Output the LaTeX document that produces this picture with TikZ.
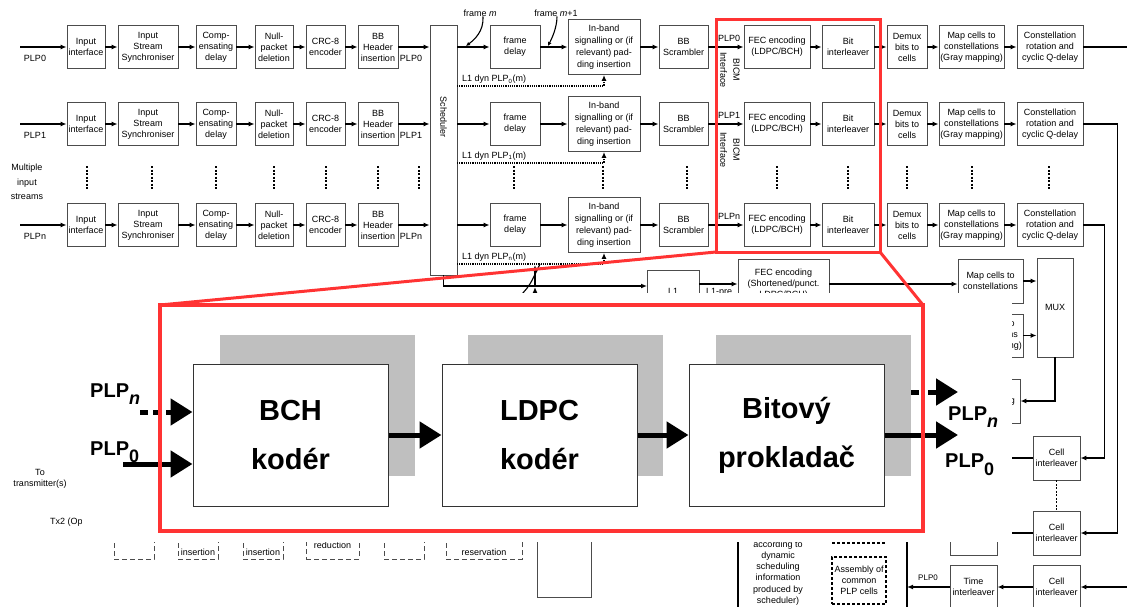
\documentclass[tikz,border=0pt]{standalone}
\usepackage{fontspec}
\setmainfont{Liberation Sans}
\usetikzlibrary{arrows.meta}

\begin{document}
\begin{tikzpicture}
  [x=1pt, y=-1pt,
   blk/.style={draw=black!70, line width=.9pt, fill=white, align=center, inner sep=1pt,
     minimum height=43pt, font=\fontsize{9}{11}\selectfont},
   lbl/.style={inner sep=0pt, align=center, font=\fontsize{9}{11}\selectfont},
   flow/.style={line width=1.4pt, -{Latex[length=6pt,width=5pt]}},
   wire/.style={line width=1.1pt},
   dyn/.style={line width=1.2pt, densely dotted, -{Latex[length=6pt,width=5pt]}},
   vdots/.style={line width=1.3pt, dash pattern=on 2pt off 1.5pt},
   ptr/.style={line width=1.1pt, -{Latex[length=4pt,width=4pt]}},
   dashbox/.style={draw=black!70, line width=.9pt, dash pattern=on 5pt off 3pt, fill=white},
   ghost/.style={fill=black!25},
   coder/.style={draw=black!80, line width=1pt, fill=white, minimum width=195pt,
     minimum height=142pt, align=center, font=\fontsize{29}{49}\selectfont\bfseries},
   fat/.style={line width=5pt, -{Triangle[length=22pt,width=26pt]}},
   big/.style={inner sep=0pt, font=\fontsize{20}{20}\selectfont\bfseries},
   zoomline/.style={draw=red!80!white, line width=3pt}]

  \useasboundingbox (0,0) rectangle (1127,607);

  % Scheduler
  \node[blk, minimum width=27pt, minimum height=250pt] (sch) at (443.5,150) {};
  \node[lbl, rotate=-90] (schtxt) at (443.5,117) {Scheduler};

  % Radky PLP
  \foreach \rw/\y in {0/47, 1/124, n/225} {
    \node[blk, minimum width=38pt] (ii\rw)  at (86,\y)    {Input\\interface};
    \node[blk, minimum width=60pt] (iss\rw) at (148,\y)   {Input\\Stream\\Synchroniser};
    \node[blk, minimum width=40pt] (cd\rw)  at (216,\y)   {Comp-\\ensating\\delay};
    \node[blk, minimum width=38pt] (np\rw)  at (274,\y)   {Null-\\packet\\deletion};
    \node[blk, minimum width=39pt] (crc\rw) at (325.5,\y) {CRC-8\\encoder};
    \node[blk, minimum width=40pt] (bbh\rw) at (378,\y)   {BB\\Header\\insertion};
    \node[blk, minimum width=50pt] (fd\rw)  at (515,\y)   {frame\\delay};
    \node[blk, minimum width=72pt, minimum height=55pt, font=\fontsize{9}{12}\selectfont] (ib\rw) at (604,\y)
      {In-band\\signalling or (if\\relevant) pad-\\ding insertion};
    \node[blk, minimum width=49pt] (bbs\rw) at (683.5,\y) {BB\\Scrambler};
    \node[blk, minimum width=66pt] (fec\rw) at (777,\y)   {FEC encoding\\(LDPC/BCH)};
    \node[blk, minimum width=52pt] (bil\rw) at (848,\y)   {Bit\\interleaver};
    \node[blk, minimum width=40pt] (dmx\rw) at (907,\y)   {Demux\\bits to\\cells};
    \node[blk, minimum width=65pt] (map\rw) at (971.5,\y) {Map cells to\\constellations\\(Gray mapping)};
    \node[blk, minimum width=66pt] (con\rw) at (1050,\y)  {Constellation\\rotation and\\cyclic Q-delay};

    \coordinate (in\rw) at (20,\y);
    \coordinate (dy\rw) at (457,\y+39);
    \draw[flow] (in\rw) -- (ii\rw);
    \foreach \from/\to in {ii/iss, iss/cd, cd/np, np/crc, crc/bbh, fd/ib, ib/bbs,
                           bbs/fec, fec/bil, bil/dmx, dmx/map, map/con}
      \draw[flow] (\from\rw) -- (\to\rw);
    \draw[flow] (bbh\rw) -- (bbh\rw -| sch.west);
    \draw[flow] (sch.east |- fd\rw) -- (fd\rw);
    \draw[dyn] (dy\rw) -| (ib\rw.south);

    \node[lbl] (pi\rw) at (35,\y+11)  {PLP\rw};
    \node[lbl] (po\rw) at (411,\y+11) {PLP\rw};
    \node[lbl] (pf\rw) at (729,\y-9)  {PLP\rw};
    \node[lbl, anchor=south west] (dl\rw) at (462,\y+37) {L1 dyn PLP\textsubscript{\rw}(m)};
  }

  \node[lbl, rotate=-90, font=\fontsize{9}{13}\selectfont] (bicm0) at (730,70)  {BICM\\Interface};
  \node[lbl, rotate=-90, font=\fontsize{9}{13}\selectfont] (bicm1) at (730,150) {BICM\\Interface};
  \node[lbl, font=\fontsize{9}{14.5}\selectfont] (mis) at (27,182) {Multiple\\input\\streams};

  % frame m, m+1
  \node[lbl] (fm)  at (480,13) {frame \textit{m}};
  \node[lbl] (fm1) at (556,13) {frame \textit{m}+1};
  \coordinate (fmt)  at (466,46);
  \coordinate (fm1t) at (548,46);
  \draw[ptr] ([xshift=3pt]fm.south) .. controls +(1,15) and +(8,-6) .. (fmt);
  \draw[ptr] ([xshift=1pt]fm1.south) .. controls +(0,12) and +(3,-6) .. (fm1t);

  \foreach \x in {87,152,216,274,326,378,419,514,603,687,777,848,907,972,1049}
    \draw[vdots] (\x,166) -- (\x,190);

  % L1 signalizace
  \node[blk, minimum width=52pt, minimum height=56pt] (l1) at (673,298) {L1\\signalling};
  \node[lbl, anchor=north] (l1pre) at (719,288) {L1-pre};
  \node[blk, minimum width=91pt, minimum height=50pt] (fecl1) at (783.5,284) {FEC encoding\\(Shortened/punct.\\LDPC/BCH)};
  \node[blk, minimum width=65pt, minimum height=44pt] (mapl1) at (990.5,281) {Map cells to\\constellations};
  \node[blk, minimum width=65pt] (mapl2) at (990.5,335.5) {Map cells to\\constellations\\(Gray mapping)};
  \node[blk, minimum width=36pt, minimum height=99pt] (mux) at (1055,307.5) {MUX};
  \node[blk, minimum width=70pt, minimum height=44pt] (frm) at (985,401) {Frame building};

  \coordinate (l1in) at (647,286);
  \draw[flow] (sch.south) |- (l1in);
  \draw[flow] (l1.east |- fecl1.west) -- (fecl1.west);
  \draw[flow] (fecl1.east) -- (mapl1.west |- fecl1.east);
  \draw[flow] (mapl1.east) -- (mapl1.east -| mux.west);
  \draw[flow] (mapl2.east) -- (mapl2.east -| mux.west);
  \draw[flow] (mux.south) |- (frm.east);
  \draw[flow] (535,294) -- (535,287);
  \draw[flow] (535,285) -- (535,265);
  \draw[wire] (522,294) .. controls (530,285) .. (540,264);

  % Bunkove prokladace
  \node[blk, minimum width=47pt, minimum height=44pt] (ci1) at (1056.5,458) {Cell\\interleaver};
  \node[blk, minimum width=47pt, minimum height=44pt] (ci2) at (1056.5,533) {Cell\\interleaver};
  \node[blk, minimum width=47pt, minimum height=44pt] (ci3) at (1056.5,587) {Cell\\interleaver};
  \node[blk, minimum width=47pt, minimum height=44pt] (fi)  at (973.5,533)  {Frequency\\interleaver};
  \node[blk, minimum width=47pt, minimum height=44pt] (ti)  at (973.5,587)  {Time\\interleaver};

  \coordinate (out0) at (1127,47);
  \coordinate (c3in) at (1127,587);
  \coordinate (tiout) at (907,587);
  \draw[wire] (con0.east) -- (out0);
  \draw[flow] (con1.east) -- ++(34,0) |- (ci2.east);
  \draw[flow] (conn.east) -- ++(21,0) |- (ci1.east);
  \draw[wire] (ci1.west) -- ++(-30,0);
  \draw[wire] (ci2.west) -- ++(-30,0);
  \draw[vdots] (ci1.south) -- (ci2.north);
  \draw[flow] (c3in) -- (ci3.east);
  \draw[flow] (ci3.west) -- (ti.east);
  \draw[flow] (ti.west) -- (tiout);
  \node[lbl, font=\fontsize{8}{9}\selectfont] (tiplp) at (928,578) {PLP0};
  \draw[wire] (907,540) -- (907,607);

  % Spodni rada
  \node[dashbox, minimum width=40pt, minimum height=40pt] (db1) at (134,539) {};
  \node[dashbox, minimum width=40pt, minimum height=40pt] (db2) at (198,539) {};
  \node[dashbox, minimum width=40pt, minimum height=40pt] (db3) at (263,539) {};
  \node[dashbox, minimum width=53pt, minimum height=40pt] (db4) at (332.5,539) {};
  \node[dashbox, minimum width=40pt, minimum height=40pt] (db5) at (404,539) {};
  \node[dashbox, minimum width=76pt, minimum height=40pt] (db6) at (484,539) {};
  \node[lbl] (db2t) at (198,552) {insertion};
  \node[lbl] (db3t) at (263,552) {insertion};
  \node[lbl] (db4t) at (332.5,545) {reduction};
  \node[lbl] (db6t) at (484,552) {reservation};
  \node[blk, minimum width=54pt, minimum height=80pt] (ifft) at (564,557) {};
  \draw[wire] (738,540) -- (738,607);
  \node[lbl, font=\fontsize{9}{11.2}\selectfont] (schinfo) at (778,573)
    {according to\\dynamic\\scheduling\\information\\produced by\\scheduler)};
  \node[draw, line width=1.5pt, densely dashed, minimum width=54pt, minimum height=47pt, align=center,
        inner sep=0pt, font=\fontsize{9}{11}\selectfont] (asm) at (859,580.5) {Assembly of\\common\\PLP cells};
  \draw[line width=1.5pt, densely dashed] (832,543) -- (886,543);
  \node[lbl] (totx) at (40,479) {To\\transmitter(s)};
  \node[lbl, anchor=west] (tx2) at (50,522) {Tx2 (Optional)};

  % Vyrez
  \fill[white] (82,293) rectangle (1012,542);
  \draw[zoomline] (716,20) rectangle (880,252);
  \draw[zoomline] (716,252) -- (160,305);
  \draw[zoomline] (880,252) -- (923,305);

  \fill[ghost] (220,335) rectangle (415,476);
  \fill[ghost] (468,335) rectangle (663,476);
  \fill[ghost] (716,335) rectangle (911,476);
  \node[coder] (bch)  at (290.5,435) {BCH\\kodér};
  \node[coder] (ldpc) at (539.5,435) {LDPC\\kodér};
  \node[coder] (bit)  at (786.5,435) {Bitový\\prokladač};

  \coordinate (pn) at (140,412);
  \coordinate (p0) at (123,464);
  \coordinate (qs) at (911,392);
  \coordinate (qn) at (958,392);
  \coordinate (q0) at (958,435);
  \draw[fat, dash pattern=on 8pt off 5pt] (pn) -- (bch.west |- pn);
  \draw[fat] (p0) -- (bch.west |- p0);
  \draw[fat] (bch) -- (ldpc);
  \draw[fat] (ldpc) -- (bit);
  \draw[fat, dash pattern=on 8pt off 9pt] (qs) -- (qn);
  \draw[fat] (bit.east |- q0) -- (q0);

  \node[big, anchor=base west] (lpn) at (90,397)  {PLP\raisebox{-7pt}{\fontsize{18}{18}\selectfont\itshape n}};
  \node[big, anchor=base west] (lp0) at (90,455)  {PLP\raisebox{-7pt}{\fontsize{18}{18}\selectfont 0}};
  \node[big, anchor=base west] (rpn) at (948,420) {PLP\raisebox{-7pt}{\fontsize{18}{18}\selectfont\itshape n}};
  \node[big, anchor=base west] (rp0) at (945,467) {PLP\raisebox{-8pt}{\fontsize{18}{18}\selectfont 0}};

  \draw[zoomline, line width=3.5pt] (160,305) rectangle (923,531);
\end{tikzpicture}
\end{document}
